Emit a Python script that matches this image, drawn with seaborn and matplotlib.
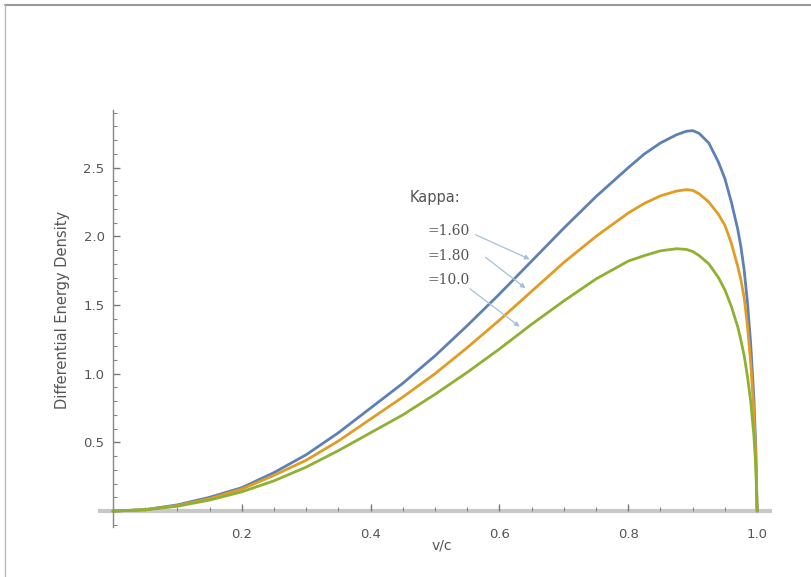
import numpy as np
import pandas as pd
import matplotlib
matplotlib.use("Agg")
import matplotlib.pyplot as plt
from matplotlib.lines import Line2D
from matplotlib.ticker import MultipleLocator
import seaborn as sns

# v/c grid and the three curves
v = [0.0, 0.05, 0.1, 0.15, 0.2, 0.25, 0.3, 0.35, 0.4, 0.45, 0.5, 0.55, 0.6, 0.65,
     0.7, 0.75, 0.8, 0.825, 0.85, 0.875, 0.89, 0.9, 0.91, 0.925, 0.94, 0.95, 0.96,
     0.97, 0.975, 0.98, 0.985, 0.99, 0.995, 0.998, 1.0]
k160 = [0.0, 0.01, 0.045, 0.10, 0.17, 0.28, 0.41, 0.57, 0.75, 0.93, 1.13, 1.35, 1.58, 1.82,
        2.06, 2.29, 2.50, 2.60, 2.68, 2.74, 2.765, 2.77, 2.75, 2.68, 2.54, 2.42, 2.25,
        2.05, 1.92, 1.75, 1.52, 1.22, 0.82, 0.45, 0.0]
k180 = [0.0, 0.01, 0.04, 0.09, 0.16, 0.26, 0.37, 0.51, 0.67, 0.83, 1.00, 1.19, 1.39, 1.60,
        1.81, 2.00, 2.17, 2.24, 2.295, 2.33, 2.34, 2.335, 2.31, 2.25, 2.16, 2.08, 1.95,
        1.78, 1.68, 1.55, 1.35, 1.08, 0.72, 0.40, 0.0]
k10 = [0.0, 0.01, 0.035, 0.08, 0.14, 0.22, 0.32, 0.44, 0.57, 0.70, 0.85, 1.01, 1.18, 1.36,
       1.53, 1.69, 1.82, 1.86, 1.895, 1.91, 1.905, 1.89, 1.86, 1.80, 1.70, 1.61, 1.49,
       1.34, 1.24, 1.13, 0.98, 0.80, 0.55, 0.32, 0.0]

kappa = ["1.60", "1.80", "10.0"]
colors = ["#5E81B5", "#E19C24", "#8FB032"]

df = pd.concat([
    pd.DataFrame({"v": v, "d": k160, "kappa": kappa[0]}),
    pd.DataFrame({"v": v, "d": k180, "kappa": kappa[1]}),
    pd.DataFrame({"v": v, "d": k10, "kappa": kappa[2]}),
])

sns.set_style("white")
plt.rcParams["font.family"] = ["DejaVu Sans"]

fig = plt.figure(figsize=(8.11, 5.77), dpi=100)
ax = fig.add_axes([100 / 811, 50 / 577, 670 / 811, 417 / 577])

sns.lineplot(data=df, x="v", y="d", hue="kappa", palette=colors, linewidth=2,
             legend=False, ax=ax, sort=False)
for ln in ax.get_lines():
    ln.set_solid_joinstyle("round")

ax.set_xlim(-0.02, 1.02)
ax.set_ylim(-0.116, 2.92)

# axes crossing at the origin
ax.spines["top"].set_visible(False)
ax.spines["right"].set_visible(False)
ax.spines["bottom"].set_position(("data", 0))
ax.spines["bottom"].set_color("#c8c8c8")
ax.spines["bottom"].set_linewidth(3)
ax.spines["bottom"].set_zorder(0)
ax.spines["left"].set_position(("data", 0))
ax.spines["left"].set_color("#888888")
ax.spines["left"].set_linewidth(1)

ax.xaxis.set_minor_locator(MultipleLocator(0.05))
ax.yaxis.set_minor_locator(MultipleLocator(0.1))
ax.set_xticks([0.2, 0.4, 0.6, 0.8, 1.0])
ax.set_xticklabels(["0.2", "0.4", "0.6", "0.8", "1.0"])
ax.set_yticks([0.5, 1.0, 1.5, 2.0, 2.5])
ax.set_yticklabels(["0.5", "1.0", "1.5", "2.0", "2.5"])
ax.tick_params(which="major", direction="in", length=5, width=1, color="#777777",
               labelsize=9.5, labelcolor="#555555", pad=6)
ax.tick_params(which="minor", direction="in", length=3, width=0.8, color="#888888")
ax.tick_params(axis="y", which="both", left=True)
ax.tick_params(axis="x", which="both", bottom=True)
ax.tick_params(axis="x", which="major", pad=12)

ax.set_xlabel("v/c", fontsize=10, color="#555555")
ax.xaxis.set_label_coords(0.51, -0.028)
ax.set_ylabel("Differential Energy Density", fontsize=10.5, color="#555555")
ax.yaxis.set_label_coords(-0.045, 0.52)

# Kappa labels with arrows
ax.text(0.46, 2.28, "Kappa:", fontsize=10.5, color="#555555", va="center")
label_pos = [(0.488, 2.04), (0.488, 1.855), (0.488, 1.68)]
arrow_start = [(0.559, 2.02), (0.575, 1.86), (0.551, 1.63)]
arrow_end = [(0.651, 1.825), (0.644, 1.61), (0.635, 1.33)]
for k, (tx, ty), s, e in zip(kappa, label_pos, arrow_start, arrow_end):
    ax.text(tx, ty, "=" + k, fontsize=10, color="#555555", va="center",
            family="DejaVu Serif")
    ax.annotate("", xy=e, xytext=s,
                arrowprops=dict(arrowstyle="-|>", color="#a8bfd6", lw=0.9,
                                mutation_scale=7))

# thin gray frame of the screenshot
fig.add_artist(Line2D([5 / 811, 1], [1 - 5 / 577, 1 - 5 / 577], color="#999999", lw=1.5))
fig.add_artist(Line2D([5 / 811, 5 / 811], [0, 1 - 5 / 577], color="#bbbbbb", lw=1))

fig.savefig("out.png", dpi=100)
